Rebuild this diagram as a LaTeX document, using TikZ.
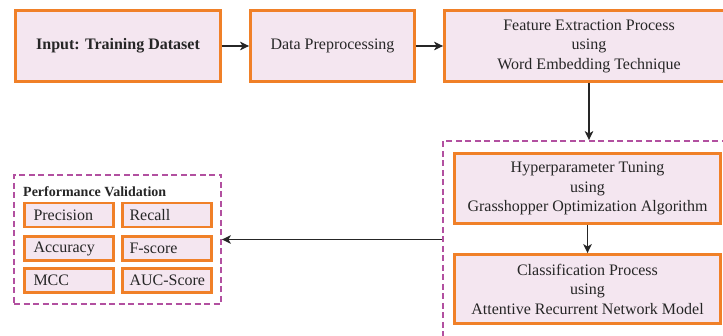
\documentclass[tikz,border=0pt]{standalone}
\usepackage{fontspec}
\setmainfont{Liberation Serif}
\usetikzlibrary{arrows.meta}
\definecolor{boxfill}{RGB}{244,230,240}
\definecolor{boxline}{RGB}{240,128,40}
\definecolor{framepurple}{RGB}{178,80,160}

\begin{document}
\begin{tikzpicture}[x=1pt,y=-1pt,
    process/.style={draw=boxline,line width=2.8pt,fill=boxfill,align=center,
        text=black!85,font={\fontsize{16}{19.5}\selectfont}},
    metric/.style={draw=boxline,line width=2.6pt,fill=boxfill,
        minimum width=89pt,minimum height=24pt,text width=77pt,inner xsep=6pt,
        align=left,text=black!85,font={\fontsize{16}{19}\selectfont}},
    frame/.style={draw=framepurple,line width=1.8pt,
        dash pattern=on 6pt off 3.5pt,minimum width=#1},
    flow/.style={-{Stealth[length=9pt,width=8.5pt,inset=2.5pt]},
        line width=1.6pt,black!85}]
\useasboundingbox (0,0) rectangle (723,336);

% top row
\node[process,minimum width=205pt,minimum height=71pt,
      font={\fontsize{16}{19.5}\selectfont\bfseries}] (input) at (118,46)
      {Input: Training Dataset};
\node[process,minimum width=164pt,minimum height=71pt] (prep) at (332.5,46)
      {Data Preprocessing};
\node[process,minimum width=289pt,minimum height=71pt] (feature) at (589,46)
      {Feature Extraction Process\\using\\Word Embedding Technique};

% tuning and classification
\node[frame=292pt,minimum height=204pt] (tuneframe) at (589,243) {};
\node[process,minimum width=266pt,minimum height=70pt] (tuning) at (587.5,188.5)
      {Hyperparameter Tuning\\using\\Grasshopper Optimization Algorithm};
\node[process,minimum width=266pt,minimum height=69pt] (classify) at (587.5,289)
      {Classification Process\\using\\Attentive Recurrent Network Model};

% validation measures
\node[frame=207pt,minimum height=129pt] (perf) at (117.5,239.5) {};
\node[anchor=west,inner sep=0pt,text=black!85,
      font={\fontsize{14}{16}\selectfont\bfseries}] (perftitle) at (23,191.5)
      {Performance Validation};
\node[metric] (precision) at (69,215) {\hspace*{3pt}Precision};
\node[metric] (recall) at (167,215) {\hspace*{1pt}Recall};
\node[metric] (accuracy) at (69,248.5) {\hspace*{3pt}Accuracy};
\node[metric] (fscore) at (167,248.5) {\hspace*{1pt}F-score};
\node[metric] (mcc) at (69,280.5) {\hspace*{3pt}MCC};
\node[metric] (auc) at (167,280.5) {\hspace*{1pt}AUC-Score};

\draw[flow] (input) -- (prep);
\draw[flow] (prep) -- (feature);
\draw[flow] (feature.south) -- (tuneframe.north);
\draw[flow] (tuning) -- (classify);
\draw[flow] (tuneframe.west |- perf.east) -- (perf.east);
\end{tikzpicture}
\end{document}
